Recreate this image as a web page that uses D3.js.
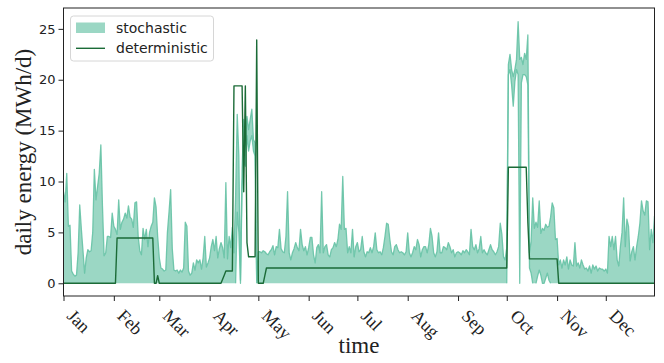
<!DOCTYPE html>
<html>
<head>
<meta charset="utf-8">
<script src="https://cdn.jsdelivr.net/npm/d3@7"></script>
<style>
  html, body { margin: 0; padding: 0; background: #ffffff; }
  svg { display: block; }
</style>
</head>
<body>
<svg id="chart" width="664" height="363"></svg>
<script>
// Daily energy for one year (MWh/d), day 0 = 1 January.
const year = 2019;

// Upper envelope of the stochastic scenarios, month by month.
const stochMaxJan = [9.0, 8.0, 10.8, 5.6, 5.7, 1.2, 0.9, 0.7, 0.8, 3.0, 7.7, 5.3, 3.2, 1.0, 2.5, 3.3, 3.1, 3.2, 5.0, 11.2, 8.2, 9.5, 10.8, 13.6, 7.6, 2.7, 3.0, 4.6, 4.6, 4.5, 6.9];
const stochMaxFeb = [5.6, 5.3, 4.8, 8.2, 5.3, 6.0, 6.3, 6.9, 6.4, 7.6, 6.5, 6.3, 5.5, 7.9, 8.0, 4.6, 3.2, 2.8, 5.4, 4.3, 5.3, 3.6, 5.0, 5.6, 6.0, 8.4, 7.5, 4.6];
const stochMaxMar = [2.5, 1.5, 1.4, 1.2, 1.3, 5.0, 7.0, 9.2, 3.4, 1.3, 1.2, 1.3, 1.0, 1.3, 1.1, 1.5, 6.0, 5.6, 1.2, 0.8, 1.0, 2.0, 1.3, 2.3, 2.0, 2.3, 1.4, 2.5, 4.6, 1.6, 2.0];
const stochMaxApr = [2.5, 3.6, 4.3, 3.2, 4.6, 2.5, 3.4, 4.0, 3.5, 2.5, 9.9, 2.4, 4.6, 3.5, 5.5, 3.0, 8.5, 16.6, 12.5, 0.3, 11.2, 16.1, 13.5, 16.4, 15.1, 16.1, 17.1, 14.1, 13.8, 0.3];
const stochMaxMay = [3.1, 3.1, 3.0, 3.2, 3.1, 2.9, 2.8, 3.1, 3.3, 3.7, 2.8, 3.6, 3.5, 5.3, 3.4, 3.1, 3.0, 4.6, 9.0, 3.0, 2.3, 3.0, 3.4, 4.0, 3.5, 3.2, 5.3, 3.8, 3.2, 3.6, 2.8];
const stochMaxJun = [3.5, 4.5, 4.5, 2.8, 2.0, 3.5, 3.8, 3.0, 9.0, 3.0, 3.6, 3.8, 2.8, 2.6, 3.3, 3.5, 4.0, 3.6, 4.3, 5.8, 5.3, 10.5, 5.3, 5.4, 3.0, 3.6, 3.0, 5.3, 2.6, 3.6];
const stochMaxJul = [4.0, 3.1, 3.3, 4.6, 3.1, 2.6, 3.1, 3.0, 3.5, 3.0, 3.6, 4.95, 3.3, 3.0, 3.1, 2.8, 3.5, 4.6, 5.9, 5.8, 4.3, 3.1, 2.8, 3.6, 3.8, 3.3, 3.0, 3.1, 3.0, 2.8, 3.1];
const stochMaxAug = [4.95, 3.0, 2.6, 3.0, 3.6, 3.3, 4.3, 3.8, 2.6, 3.3, 3.6, 3.6, 3.0, 3.8, 5.4, 4.6, 3.0, 2.6, 3.1, 4.95, 3.0, 3.0, 3.6, 3.5, 3.3, 4.0, 3.6, 3.0, 3.3, 2.6, 3.0];
const stochMaxSep = [3.1, 3.0, 2.8, 3.2, 3.0, 3.3, 3.1, 2.8, 5.3, 3.6, 3.3, 3.8, 3.0, 3.4, 4.6, 3.0, 3.3, 3.0, 2.8, 3.3, 3.8, 3.3, 3.1, 2.8, 3.1, 3.6, 5.9, 4.8, 2.6, 2.3];
const stochMaxOct = [3.5, 21.5, 22.5, 21.0, 20.3, 21.0, 22.0, 25.7, 22.0, 22.2, 21.5, 22.6, 22.0, 24.4, 3.0, 4.1, 8.4, 5.4, 6.0, 5.5, 8.1, 4.9, 5.4, 5.2, 5.8, 5.5, 5.6, 6.5, 7.9, 7.4, 4.3];
const stochMaxNov = [4.4, 1.8, 2.3, 1.5, 2.3, 1.8, 2.6, 1.4, 2.3, 1.8, 1.7, 4.0, 1.7, 2.0, 1.5, 2.3, 1.8, 1.4, 1.5, 1.2, 1.7, 1.0, 1.8, 1.4, 1.7, 1.2, 1.5, 1.4, 1.4, 1.2];
const stochMaxDec = [1.4, 1.0, 4.6, 3.6, 4.6, 3.3, 4.6, 2.3, 1.7, 3.6, 5.0, 8.4, 3.6, 6.3, 5.6, 2.2, 3.1, 3.6, 2.3, 3.6, 4.6, 5.9, 8.1, 7.1, 6.7, 8.1, 8.0, 3.3, 5.3, 4.0, 6.6];

// Lower envelope of the stochastic scenarios: zero except in the two high periods.
const stochMinAprStart = 106;
const stochMinApr = [0, 7.0, 5.0, 0, 9.5, 12.0, 11.5, 14.5, 13.0, 14.0, 14.5, 13.0, 12.5, 0];
const stochMinOctStart = 273;
const stochMinOct = [0, 20.5, 21.0, 19.5, 17.4, 19.8, 21.0, 20.5, 0, 19.7, 20.5, 20.5, 20.3, 19.5, 1.5, 1.0, 0, 0, 0, 0.7, 1.3, 0.8, 0, 0, 0.5, 1.0, 0.3];

// Deterministic run, month by month.
const detJan = [0, 0, 0, 0, 0, 0, 0, 0, 0, 0, 0, 0, 0, 0, 0, 0, 0, 0, 0, 0, 0, 0, 0, 0, 0, 0, 0, 0, 0, 0, 0];
const detFeb = [0, 0, 4.45, 4.45, 4.45, 4.45, 4.45, 4.45, 4.45, 4.45, 4.45, 4.45, 4.45, 4.45, 4.45, 4.45, 4.45, 4.45, 4.45, 4.45, 4.45, 4.45, 4.45, 4.45, 4.45, 0, 0, 0.75];
const detMar = [0, 0, 0, 0, 0, 0, 0, 0, 0, 0, 0, 0, 0, 0, 0, 0, 0, 0, 0, 0, 0, 0, 0, 0, 0, 0, 0, 0, 0, 0, 0];
const detApr = [0, 0, 0, 0, 0, 0, 0, 0, 0.4, 0.8, 1.2, 1.2, 1.2, 1.2, 1.2, 19.4, 19.4, 19.4, 19.4, 19.4, 19.4, 9.0, 19.4, 4.0, 2.6, 2.6, 2.6, 2.6, 2.6, 23.9];
const detMay = [0, 0, 0, 0, 0.75, 1.5, 1.5, 1.5, 1.5, 1.5, 1.5, 1.5, 1.5, 1.5, 1.5, 1.5, 1.5, 1.5, 1.5, 1.5, 1.5, 1.5, 1.5, 1.5, 1.5, 1.5, 1.5, 1.5, 1.5, 1.5, 1.5];
const detJun = [1.5, 1.5, 1.5, 1.5, 1.5, 1.5, 1.5, 1.5, 1.5, 1.5, 1.5, 1.5, 1.5, 1.5, 1.5, 1.5, 1.5, 1.5, 1.5, 1.5, 1.5, 1.5, 1.5, 1.5, 1.5, 1.5, 1.5, 1.5, 1.5, 1.5];
const detJul = [1.5, 1.5, 1.5, 1.5, 1.5, 1.5, 1.5, 1.5, 1.5, 1.5, 1.5, 1.5, 1.5, 1.5, 1.5, 1.5, 1.5, 1.5, 1.5, 1.5, 1.5, 1.5, 1.5, 1.5, 1.5, 1.5, 1.5, 1.5, 1.5, 1.5, 1.5];
const detAug = [1.5, 1.5, 1.5, 1.5, 1.5, 1.5, 1.5, 1.5, 1.5, 1.5, 1.5, 1.5, 1.5, 1.5, 1.5, 1.5, 1.5, 1.5, 1.5, 1.5, 1.5, 1.5, 1.5, 1.5, 1.5, 1.5, 1.5, 1.5, 1.5, 1.5, 1.5];
const detSep = [1.5, 1.5, 1.5, 1.5, 1.5, 1.5, 1.5, 1.5, 1.5, 1.5, 1.5, 1.5, 1.5, 1.5, 1.5, 1.5, 1.5, 1.5, 1.5, 1.5, 1.5, 1.5, 1.5, 1.5, 1.5, 1.5, 1.5, 1.5, 1.5, 1.5];
const detOct = [1.5, 11.4, 11.4, 11.4, 11.4, 11.4, 11.4, 11.4, 11.4, 11.4, 11.4, 11.4, 11.4, 6.0, 2.4, 2.4, 2.4, 2.4, 2.4, 2.4, 2.4, 2.4, 2.4, 2.4, 2.4, 2.4, 2.4, 2.4, 2.4, 2.4, 2.4];
const detNov = [2.4, 0, 0, 0, 0, 0, 0, 0, 0, 0, 0, 0, 0, 0, 0, 0, 0, 0, 0, 0, 0, 0, 0, 0, 0, 0, 0, 0, 0, 0];
const detDec = [0, 0, 0, 0, 0, 0, 0, 0, 0, 0, 0, 0, 0, 0, 0, 0, 0, 0, 0, 0, 0, 0, 0, 0, 0, 0, 0, 0, 0, 0, 0];

const yTicks = [0, 5, 10, 15, 20, 25];
const seriesLabels = ["stochastic", "deterministic"];
const xTitle = "time";
const yTitle = "daily energy (MWh/d)";

// ---- assemble the daily table ----
const stochMax = [].concat(stochMaxJan, stochMaxFeb, stochMaxMar, stochMaxApr, stochMaxMay, stochMaxJun,
  stochMaxJul, stochMaxAug, stochMaxSep, stochMaxOct, stochMaxNov, stochMaxDec);
const deterministic = [].concat(detJan, detFeb, detMar, detApr, detMay, detJun,
  detJul, detAug, detSep, detOct, detNov, detDec);
const stochMin = stochMax.map((_, i) => {
  if (i >= stochMinAprStart && i < stochMinAprStart + stochMinApr.length) return stochMinApr[i - stochMinAprStart];
  if (i >= stochMinOctStart && i < stochMinOctStart + stochMinOct.length) return stochMinOct[i - stochMinOctStart];
  return 0;
});
const days = stochMax.map((v, i) => ({
  date: new Date(year, 0, 1 + i),
  hi: v,
  lo: stochMin[i],
  det: deterministic[i]
}));

// ---- layout ----
const plot = { left: 63.5, right: 654.5, top: 8, bottom: 296 };
const fillColor = "#66c2a5";
const detColor = "#1b6b37";
const inkColor = "#222222";

const svg = d3.select("#chart");

const x = d3.scaleTime()
  .domain([new Date(year, 0, 1), new Date(year, 11, 31)])
  .range([plot.left, plot.right]);
const y = d3.scaleLinear()
  .domain([-1.25, 27.05])
  .range([plot.bottom, plot.top]);

svg.append("defs").append("clipPath").attr("id", "plot-clip")
  .append("rect")
  .attr("x", plot.left).attr("y", plot.top)
  .attr("width", plot.right - plot.left).attr("height", plot.bottom - plot.top);

const g = svg.append("g").attr("clip-path", "url(#plot-clip)");

// stochastic band
g.append("path")
  .datum(days)
  .attr("d", d3.area().x(d => x(d.date)).y0(d => y(d.lo)).y1(d => y(d.hi)))
  .attr("fill", fillColor)
  .attr("fill-opacity", 0.65)
  .attr("stroke", "none");

// outline of the band (upper scenario line)
g.append("path")
  .datum(days)
  .attr("d", d3.line().x(d => x(d.date)).y(d => y(d.hi)))
  .attr("fill", "none")
  .attr("stroke", fillColor)
  .attr("stroke-opacity", 0.9)
  .attr("stroke-width", 1.3)
  .attr("stroke-linejoin", "round");

// lower scenario line where it leaves zero
g.append("path")
  .datum(days)
  .attr("d", d3.line()
    .defined((d, i) => d.lo > 0 || (i > 0 && days[i - 1].lo > 0) || (i < days.length - 1 && days[i + 1].lo > 0))
    .x(d => x(d.date)).y(d => y(d.lo)))
  .attr("fill", "none")
  .attr("stroke", fillColor)
  .attr("stroke-opacity", 0.9)
  .attr("stroke-width", 1.3)
  .attr("stroke-linejoin", "round");

// deterministic run
g.append("path")
  .datum(days)
  .attr("d", d3.line().x(d => x(d.date)).y(d => y(d.det)))
  .attr("fill", "none")
  .attr("stroke", detColor)
  .attr("stroke-width", 1.4)
  .attr("stroke-linejoin", "round");

// ---- axes ----
const yAxis = svg.append("g")
  .attr("transform", `translate(${plot.left},0)`)
  .call(d3.axisLeft(y).tickValues(yTicks).tickSize(5).tickPadding(3).tickSizeOuter(0));
yAxis.select(".domain").remove();
yAxis.selectAll("line").attr("stroke", inkColor).attr("stroke-width", 1);
yAxis.selectAll("text")
  .attr("fill", inkColor)
  .style("font-family", "'DejaVu Sans', sans-serif")
  .style("font-size", "13px");

const xAxis = svg.append("g")
  .attr("transform", `translate(0,${plot.bottom})`)
  .call(d3.axisBottom(x).ticks(d3.timeMonth.every(1)).tickFormat(d3.timeFormat("%b")).tickSize(5).tickSizeOuter(0));
xAxis.select(".domain").remove();
xAxis.selectAll("line").attr("stroke", inkColor).attr("stroke-width", 1);
xAxis.selectAll("text")
  .attr("fill", inkColor)
  .attr("x", 0).attr("y", 0).attr("dy", null)
  .attr("text-anchor", "start")
  .attr("transform", "translate(2,21) rotate(45)")
  .style("font-family", "'Liberation Serif', 'Times New Roman', serif")
  .style("font-size", "18px");

// frame
svg.append("rect")
  .attr("x", plot.left).attr("y", plot.top)
  .attr("width", plot.right - plot.left).attr("height", plot.bottom - plot.top)
  .attr("fill", "none").attr("stroke", inkColor).attr("stroke-width", 1);

// axis titles
svg.append("text")
  .attr("x", (plot.left + plot.right) / 2).attr("y", 353)
  .attr("text-anchor", "middle")
  .attr("fill", inkColor)
  .style("font-family", "'Liberation Serif', 'Times New Roman', serif")
  .style("font-size", "23px")
  .text(xTitle);

svg.append("text")
  .attr("transform", `translate(31,${(plot.top + plot.bottom) / 2}) rotate(-90)`)
  .attr("text-anchor", "middle")
  .attr("fill", inkColor)
  .style("font-family", "'Liberation Serif', 'Times New Roman', serif")
  .style("font-size", "23px")
  .text(yTitle);

// ---- legend ----
const legend = svg.append("g");
legend.append("rect")
  .attr("x", 70.5).attr("y", 16).attr("width", 143).attr("height", 45).attr("rx", 3)
  .attr("fill", "#ffffff").attr("fill-opacity", 0.8)
  .attr("stroke", "#d6d6d6").attr("stroke-width", 1);
legend.append("rect")
  .attr("x", 76).attr("y", 22.5).attr("width", 29).attr("height", 10.5)
  .attr("fill", fillColor).attr("fill-opacity", 0.65);
legend.append("line")
  .attr("x1", 76).attr("x2", 105).attr("y1", 48.3).attr("y2", 48.3)
  .attr("stroke", detColor).attr("stroke-width", 1.4);
legend.selectAll("text.entry")
  .data(seriesLabels)
  .join("text")
  .attr("class", "entry")
  .attr("x", 116)
  .attr("y", (d, i) => 32.7 + i * 20.6)
  .attr("fill", inkColor)
  .style("font-family", "'DejaVu Sans', sans-serif")
  .style("font-size", "14px")
  .text(d => d);
</script>
</body>
</html>
